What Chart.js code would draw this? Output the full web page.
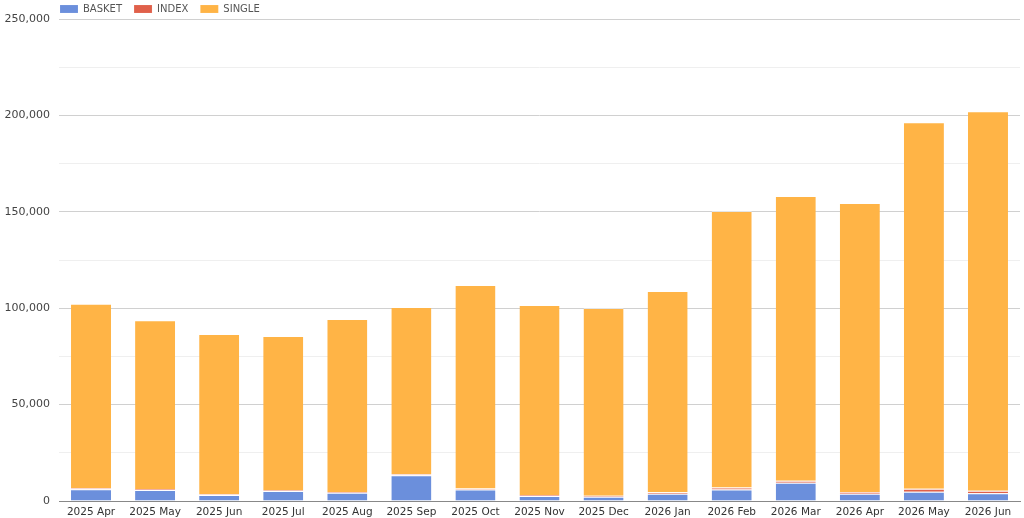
<!DOCTYPE html>
<html>
<head>
<meta charset="utf-8">
<script src="https://cdn.jsdelivr.net/npm/chart.js"></script>
<style>
  html, body { margin: 0; padding: 0; background: #fff; }
</style>
</head>
<body>
<canvas id="myChart" width="1024" height="518"></canvas>
<script>
const months = ['2025 Apr', '2025 May', '2025 Jun', '2025 Jul', '2025 Aug', '2025 Sep', '2025 Oct',
    '2025 Nov', '2025 Dec', '2026 Jan', '2026 Feb', '2026 Mar', '2026 Apr', '2026 May', '2026 Jun'];
const basket = [6100, 5700, 3100, 5200, 4300, 13300, 6000, 2600, 2200, 3800, 6000, 9500, 3800, 4800, 4000];
const index = [600, 500, 400, 400, 400, 600, 500, 500, 500, 700, 1000, 1000, 900, 1500, 1300];
const totals = [102300, 93800, 86600, 85600, 94400, 100600, 112000, 101700, 100100, 108900, 150400, 158200, 154600, 196400, 202200];
const single = totals.map((t, i) => t - basket[i] - index[i]);

const legendPad = 12;

// squeeze the legend into a thin strip and line it up with the plot area
const legendTweak = {
    id: 'legendTweak',
    afterInit(chart) {
        const lg = chart.legend;
        const fit = lg.fit;
        lg.fit = function () {
            fit.call(this);
            this.height = 19;
        };
    },
    beforeDraw(chart) {
        const lg = chart.legend;
        lg.left = chart.chartArea.left + 1 - legendPad;
        lg.top = -8;
    }
};

const ctx = document.getElementById('myChart').getContext('2d');

new Chart(ctx, {
    type: 'bar',
    data: {
        labels: months,
        datasets: [
            { label: 'BASKET', data: basket, backgroundColor: '#6b8fdc' },
            { label: 'INDEX', data: index, backgroundColor: '#e0604a' },
            { label: 'SINGLE', data: single, backgroundColor: '#ffb446' }
        ]
    },
    options: {
        responsive: false,
        animation: false,
        devicePixelRatio: 1,
        layout: { padding: { left: 0, right: 4, top: 0, bottom: 0 } },
        datasets: {
            bar: {
                barPercentage: 0.625,
                categoryPercentage: 1.0,
                borderColor: 'rgba(255,255,255,0.45)',
                borderWidth: { top: 1 },
                borderSkipped: false
            }
        },
        scales: {
            x: {
                stacked: true,
                grid: { display: false, drawTicks: false },
                border: { color: '#888', width: 1 },
                afterFit: s => { s.height = 17; },
                ticks: {
                    color: '#333', autoSkip: false, maxRotation: 0, padding: 5,
                    font: { family: 'DejaVu Sans', size: 10.5 }
                }
            },
            y: {
                stacked: true,
                min: 0,
                max: 250000,
                border: { display: false },
                afterFit: s => { s.width = 59; },
                grid: {
                    color: c => (c.tick && c.tick.value % 50000 === 0) ? '#d0d0d0' : '#efefef',
                    drawTicks: false
                },
                ticks: {
                    stepSize: 25000,
                    color: '#444',
                    padding: 9,
                    font: { family: 'DejaVu Sans', size: 11 },
                    callback: v => (v % 50000 === 0) ? v.toLocaleString('en-US') : ''
                }
            }
        },
        plugins: {
            legend: {
                position: 'top',
                align: 'start',
                labels: {
                    boxWidth: 18,
                    boxHeight: 8,
                    padding: legendPad,
                    color: '#555',
                    font: { family: 'DejaVu Sans', size: 10 }
                }
            },
            tooltip: { enabled: false }
        }
    },
    plugins: [legendTweak]
});
</script>
</body>
</html>
